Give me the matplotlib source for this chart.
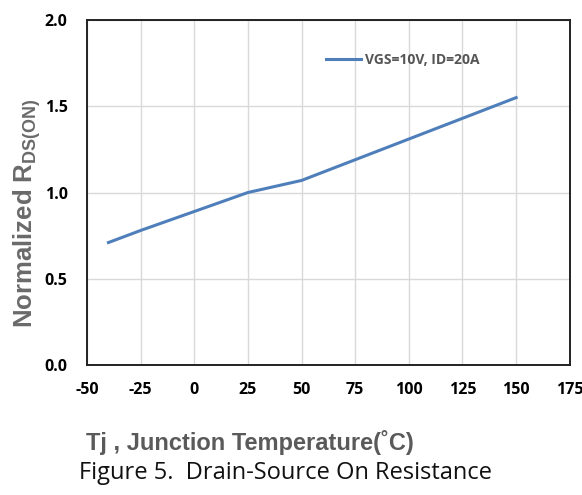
import matplotlib
matplotlib.use('Agg')
import matplotlib.pyplot as plt

plt.rcParams['axes.unicode_minus'] = False

temp = [-40, -25, 0, 25, 50, 75, 100, 125, 150]
rds_norm = [0.71, 0.78, 0.89, 1.0, 1.07, 1.19, 1.31, 1.43, 1.55]
x_ticks = [-50, -25, 0, 25, 50, 75, 100, 125, 150, 175]
y_ticks = [0.0, 0.5, 1.0, 1.5, 2.0]
series_label = 'VGS=10V, ID=20A'

fig = plt.figure(figsize=(5.82, 4.95), dpi=100)
ax = fig.add_axes([0.1495, 0.2626, 0.8295, 0.697])

ax.plot(temp, rds_norm, color='#4f7fba', linewidth=2.2, label=series_label)
ax.set_xlim(-50, 175)
ax.set_ylim(0, 2.0)
ax.set_xticks(x_ticks)
ax.set_yticks(y_ticks)
ax.set_yticklabels([f'{v:.1f}' for v in y_ticks])
ax.grid(True, color='#d9d9d9', linewidth=1.0)
ax.set_axisbelow(True)
ax.tick_params(axis='x', length=0, labelsize=11.5, pad=12)
ax.tick_params(axis='y', length=0, labelsize=11.5, pad=14)
for lbl in ax.get_xticklabels() + ax.get_yticklabels():
    lbl.set_fontweight('bold')
    lbl.set_family('Open Sans')
for s in ax.spines.values():
    s.set_linewidth(1.4)
    s.set_color('#222222')

leg = ax.legend(loc='upper left', bbox_to_anchor=(0.47, 0.94), frameon=False,
                prop={'family': 'Open Sans', 'weight': 'bold', 'size': 10},
                handlelength=2.5, handletextpad=0.3)
for t in leg.get_texts():
    t.set_color('#555555')

fig.text(0.046, 0.57, r'Normalized R$_{\mathregular{DS(ON)}}$', rotation=90,
         fontsize=18.5, fontweight='bold', family='Liberation Sans',
         color='#6a6a6a', ha='center', va='center')
fig.text(0.43, 0.107, 'Tj , Junction Temperature(˚C)', fontsize=17, fontweight='bold',
         family='Liberation Sans', color='#5a5a5a', ha='center', va='center')
fig.text(0.49, 0.045, 'Figure 5.  Drain-Source On Resistance', fontsize=17,
         family='Open Sans', color='#111111', ha='center', va='center')

fig.savefig('out.png', dpi=100)
